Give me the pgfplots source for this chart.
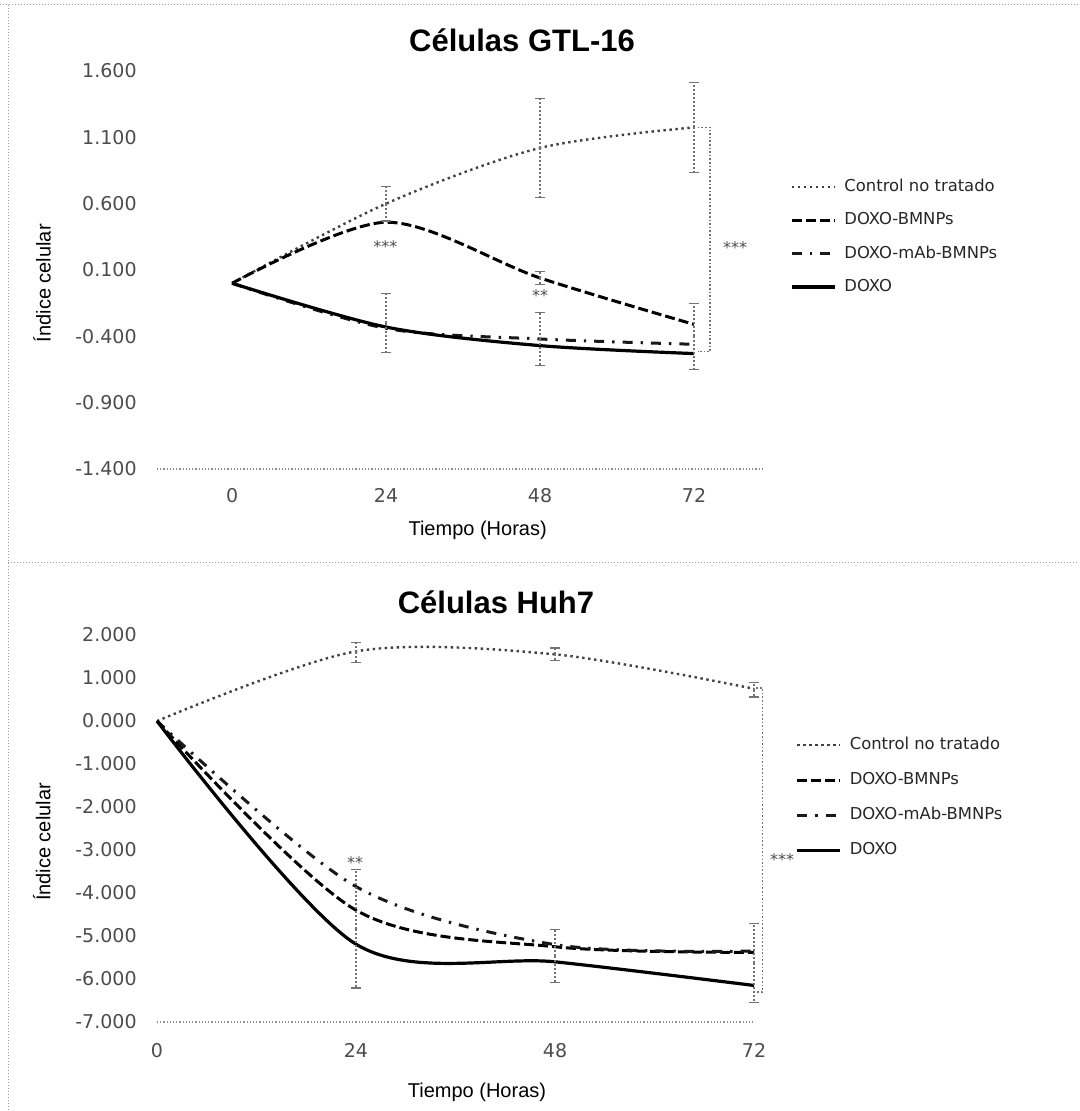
\documentclass[border=0pt]{standalone}
\usepackage{fontspec}
\setmainfont{Liberation Sans}
\newfontfamily\dejavu{DejaVu Sans}
\usepackage{pgfplots}
\pgfplotsset{compat=1.18}

\pgfplotsset{
  cellax/.style={
    scale only axis, clip=false,
    axis line style={draw=none}, tick style={draw=none}, major tick length=0pt,
    ticklabel style={font=\dejavu\fontsize{9.5}{11}\selectfont, text=black!70},
    label style={font=\dejavu\fontsize{10.5}{12}\selectfont, text=black!80},
    xtick={0,24,48,72}, xticklabels={0,24,48,72},
    xticklabel style={anchor=north, inner sep=0pt, yshift=-9.5pt},
    yticklabel style={anchor=east, inner sep=0pt, xshift=-10pt},
    legend cell align=left,
    legend image code/.code={\draw[##1] (0pt,0pt) -- (21.5pt,0pt);},
    legend style={draw=none, fill=none, inner sep=0pt, anchor=north west,
      font=\dejavu\fontsize{8.2}{9.5}\selectfont, text=black!85,
      nodes={inner sep=1pt}, column sep=3pt},
  },
  ctrl/.style={black!75, line width=1.2pt, dash pattern=on 1.2pt off 1.8pt, smooth},
  bmnp/.style={black, line width=1.5pt, dash pattern=on 5pt off 2pt, smooth},
  mab/.style={black!90, line width=1.5pt, dash pattern=on 5pt off 4pt on 1.2pt off 4pt, smooth},
  doxo/.style={black, line width=1.6pt, smooth},
  ebar/.style={forget plot, draw=none, mark=none,
    error bars/.cd, y dir=both, y explicit,
    error bar style={draw=black!55, line width=1pt, densely dotted},
    error mark options={draw=black!55, rotate=90, mark size=2.5pt, line width=0.6pt, solid}},
}
\tikzset{
  star/.style={font=\dejavu\fontsize{8}{9}\selectfont, text=black!70},
  brk/.style={black!55, densely dotted, line width=0.8pt},
}

\begin{document}
\begin{tikzpicture}
\useasboundingbox (0,0) rectangle (539.5pt,-555.5pt);
% dotted frame
\draw[black!40, densely dotted, line width=0.5pt] (0,-2.5pt) -- (539.5pt,-2.5pt);
\draw[black!40, densely dotted, line width=0.5pt] (4pt,-2.5pt) -- (4pt,-555.5pt);
\draw[black!40, densely dotted, line width=0.5pt] (4pt,-281pt) -- (539.5pt,-281pt);

\node[font=\bfseries\fontsize{15.5}{18}\selectfont] at (261pt,-20pt) {Células GTL-16};
\node[font=\bfseries\fontsize{15.5}{18}\selectfont] at (248pt,-301pt) {Células Huh7};

% GTL-16
\begin{axis}[cellax,
  at={(78.5pt,-234.5pt)}, anchor=south west, width=302.5pt, height=199pt,
  xmin=-11.7, xmax=82.6, ymin=-1.4, ymax=1.6,
  ytick={-1.4,-0.9,-0.4,0.1,0.6,1.1,1.6},
  yticklabels={-1.400,-0.900,-0.400,0.100,0.600,1.100,1.600},
  xlabel={Tiempo (Horas)}, ylabel={Índice celular},
  every axis x label/.style={at={(axis description cs:0.53,-0.153)}, anchor=center},
  every axis y label/.style={at={(axis description cs:-0.19,0.467)}, rotate=90, anchor=center},
  legend style={at={(axis description cs:1.046,0.734)}, row sep=7pt},
]
\draw[black!45, densely dotted, line width=0.6pt] (rel axis cs:0,0) -- (rel axis cs:1,0);
\addplot[ctrl] coordinates {(0,0) (24,0.6) (48,1.02) (72,1.175)};
\addlegendentry{Control no tratado}
\addplot[bmnp] coordinates {(0,0) (24,0.46) (48,0.04) (72,-0.31)};
\addlegendentry{DOXO-BMNPs}
\addplot[mab] coordinates {(0,0) (24,-0.34) (48,-0.42) (72,-0.46)};
\addlegendentry{DOXO-mAb-BMNPs}
\addplot[doxo] coordinates {(0,0) (24,-0.33) (48,-0.47) (72,-0.53)};
\addlegendentry{DOXO}
\addplot[ebar] coordinates {(24,0.6) +- (0,0.13) (48,1.02) +- (0,0.375) (72,1.175) +- (0,0.34)};
\addplot[ebar] coordinates {(24,-0.3) +- (0,0.22) (48,-0.42) +- (0,0.2) (72,-0.4) +- (0,0.25)};
\addplot[ebar] coordinates {(48,0.04) +- (0,0.05)};
\draw[brk] (axis cs:72.6,1.175) -- (axis cs:74.5,1.175) -- (axis cs:74.5,-0.515) -- (axis cs:72.6,-0.515);
\node[star] at (axis cs:23.9,0.276) {***};
\node[star] at (axis cs:48,-0.089) {**};
\node[star] at (axis cs:78.4,0.266) {***};
\end{axis}

% Huh7
\begin{axis}[cellax,
  at={(78.5pt,-511pt)}, anchor=south west, width=298.5pt, height=193.5pt,
  xmin=0, xmax=72, ymin=-7, ymax=2,
  ytick={-7,-6,-5,-4,-3,-2,-1,0,1,2},
  yticklabels={-7.000,-6.000,-5.000,-4.000,-3.000,-2.000,-1.000,0.000,1.000,2.000},
  xticklabel style={yshift=-1pt},
  xlabel={Tiempo (Horas)}, ylabel={Índice celular},
  every axis x label/.style={at={(axis description cs:0.536,-0.181)}, anchor=center},
  every axis y label/.style={at={(axis description cs:-0.193,0.465)}, rotate=90, anchor=center},
  legend style={at={(axis description cs:1.069,0.742)}, row sep=7.9pt},
]
\draw[black!45, densely dotted, line width=0.6pt] (rel axis cs:0,0) -- (rel axis cs:1,0);
\addplot[ctrl] coordinates {(0,0) (24,1.62) (48,1.55) (72,0.75)};
\addlegendentry{Control no tratado}
\addplot[bmnp] coordinates {(0,0) (24,-4.4) (48,-5.25) (72,-5.38)};
\addlegendentry{DOXO-BMNPs}
\addplot[mab] coordinates {(0,0) (24,-3.85) (48,-5.2) (72,-5.35)};
\addlegendentry{DOXO-mAb-BMNPs}
\addplot[doxo] coordinates {(0,0) (24,-5.19) (48,-5.6) (72,-6.15)};
\addlegendentry{DOXO}
\addplot[ebar] coordinates {(24,1.6) +- (0,0.23) (48,1.55) +- (0,0.15) (72,0.73) +- (0,0.17)};
\addplot[ebar] coordinates {(24,-4.83) +- (0,1.38) (48,-5.47) +- (0,0.62) (72,-5.62) +- (0,0.92)};
\draw[brk] (axis cs:72.3,0.77) -- (axis cs:73,0.77) -- (axis cs:73,-6.3) -- (axis cs:72.3,-6.3);
\node[star] at (axis cs:23.9,-3.29) {**};
\node[star] at (axis cs:75.4,-3.23) {***};
\end{axis}
\end{tikzpicture}
\end{document}
